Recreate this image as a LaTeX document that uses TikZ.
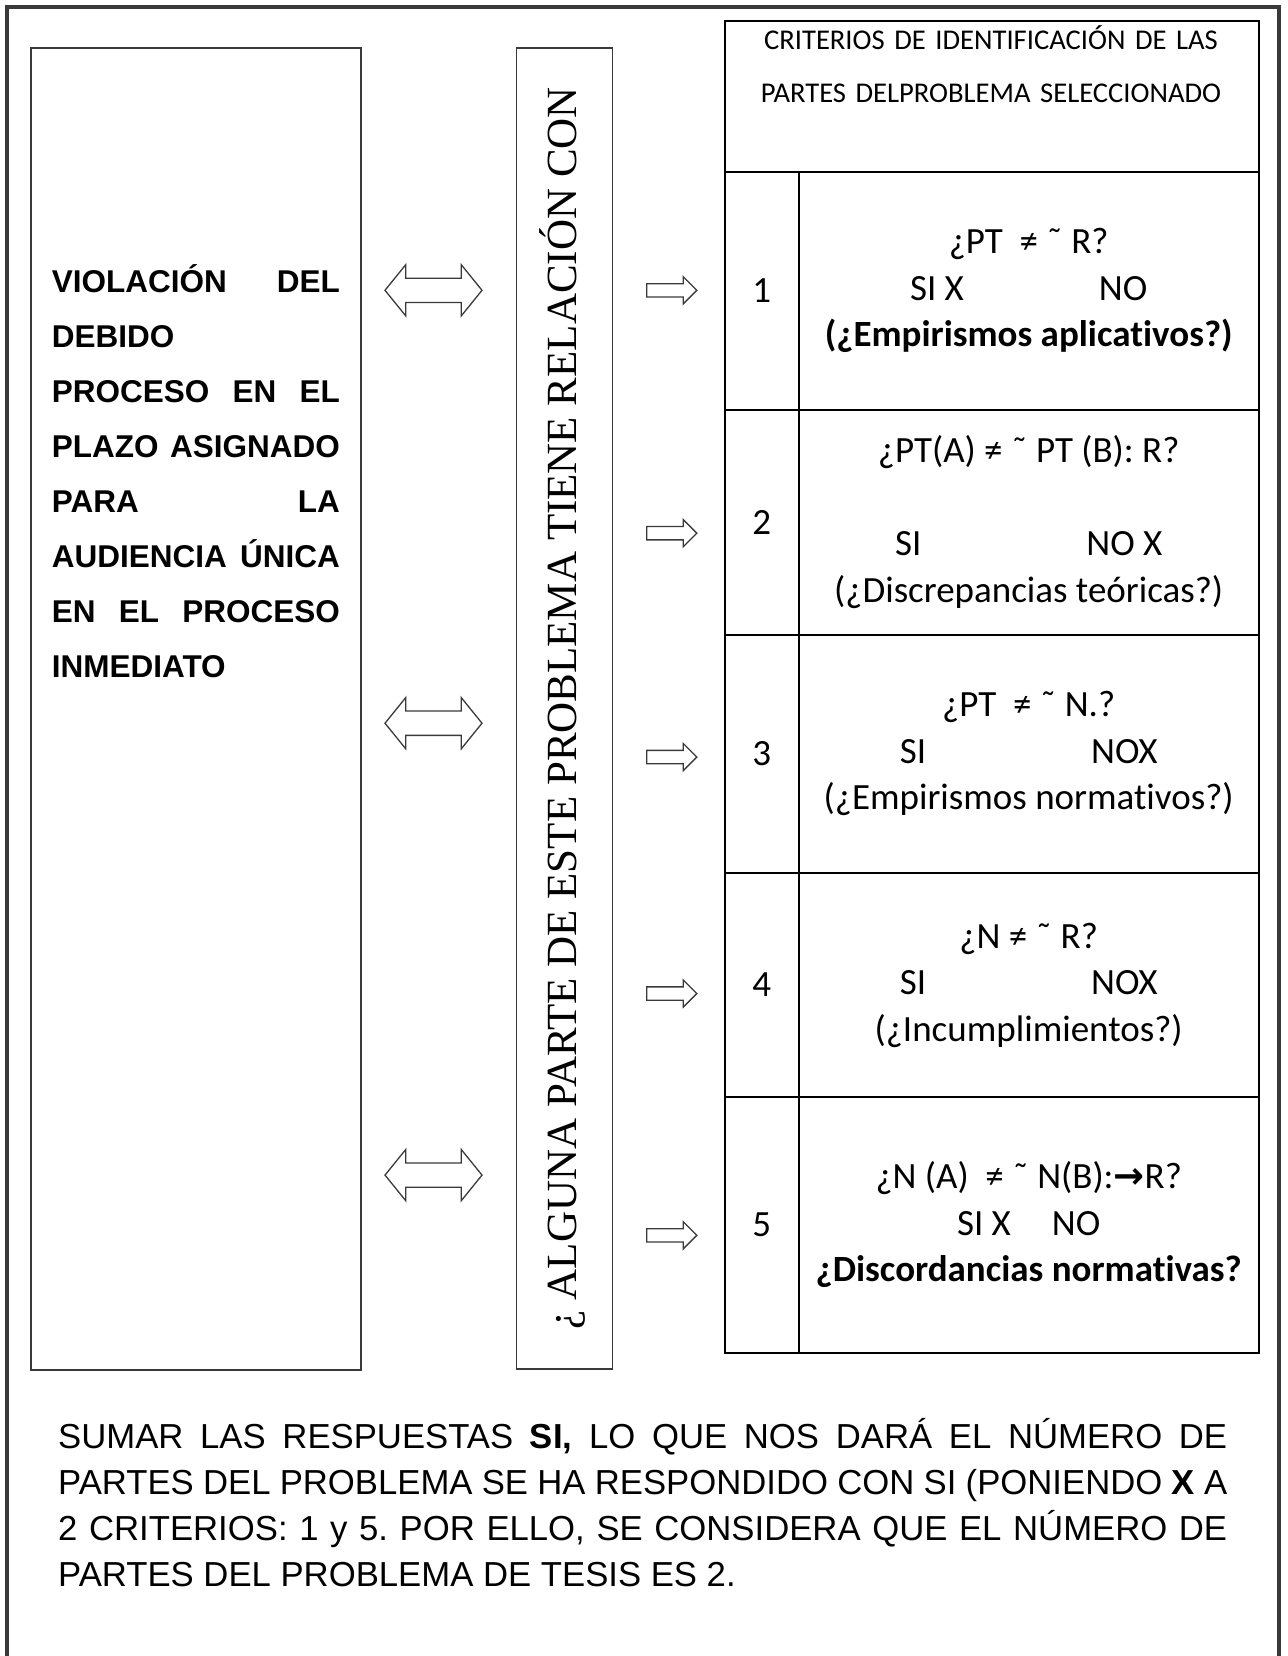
\documentclass[tikz,border=0pt]{standalone}
\usepackage{fontspec}
\setmainfont{Carlito}[Ligatures={NoCommon,NoContextual}, Contextuals=NoAlternate]
\newfontfamily\arialf{Liberation Sans}
\newfontfamily\timesf{Liberation Serif}
\newfontfamily\dejavuf{DejaVu Sans}
\usetikzlibrary{shapes.arrows}
\definecolor{gris}{HTML}{3A3A3A}
\frenchspacing

\begin{document}
\begin{tikzpicture}[x=1pt,y=-1pt,
    caja/.style={draw=gris, line width=1.5pt, rectangle, anchor=north west, inner sep=0pt},
    celda/.style={draw=black, line width=2pt, rectangle, anchor=north west, inner sep=0pt,
        align=center, font=\fontsize{37}{46.5}\selectfont},
    dflecha/.style={double arrow, draw=gris, line width=1.3pt, inner xsep=0pt, inner ysep=11.5pt,
        minimum height=97pt, double arrow head extend=13.5pt, double arrow tip angle=102},
    sflecha/.style={single arrow, draw=gris, line width=1.3pt, inner xsep=0pt, inner ysep=6pt,
        minimum height=50pt, single arrow head extend=7pt, single arrow tip angle=90}]
    \useasboundingbox (0,0) rectangle (1287,1656);

    % Dibuja el marco exterior
    \draw[gris, line width=4pt] (7,1670) -- (7,7) -- (1279,7) -- (1279,1670);

    % Caja del problema
    \node[caja, minimum width=330pt, minimum height=1321.5pt] (problema) at (30,47.5) {};
    \node[anchor=base west, text width=288pt, inner sep=0pt, align=left,
        font=\arialf\bfseries\fontsize{31.5}{55}\selectfont] (textoproblema) at (51.7,292.5)
        {VIOLACIÓN\hfill DEL\\
         DEBIDO\\
         PROCESO\hfill EN\hfill EL\\
         PLAZO\hfill ASIGNADO\\
         PARA\hfill LA\\
         AUDIENCIA\hfill ÚNICA\\
         EN\hfill EL\hfill PROCESO\\
         INMEDIATO};

    % Caja de la pregunta (texto vertical)
    \node[caja, minimum width=96pt, minimum height=1320.5pt] (pregunta) at (515.7,47.5) {};
    \node[rotate=90, inner sep=0pt, font=\timesf\fontsize{43}{50}\selectfont] (textopregunta)
        at ([xshift=-2pt]pregunta.center) {¿ ALGUNA PARTE DE ESTE PROBLEMA TIENE RELACIÓN CON};

    % Flechas dobles y simples
    \foreach \y [count=\i] in {290.3,723.2,1175.1}
        \node[dflecha] (doble\i) at (433.5,\y) {};
    \foreach \y [count=\i] in {290.3,533.2,757,993.5,1235.3}
        \node[sflecha] (simple\i) at (668.5,\y) {};

    % Tabla de criterios
    \node[celda, minimum width=533.7pt, minimum height=150.7pt] (cabecera) at (724,20) {};
    \node[anchor=base, text width=520pt, inner sep=0pt, align=center,
        font=\fontsize{28.6}{53}\selectfont] (titulo) at (991,49.5)
        {CRITERIOS DE IDENTIFICACIÓN DE LAS\\PARTES DELPROBLEMA SELECCIONADO};
    \foreach \n/\ya/\yb in {1/170.7/408.6, 2/408.6/633.5, 3/633.5/872, 4/872/1096, 5/1096/1351.5}
        \node[celda, minimum width=73.7pt, minimum height={\yb-\ya}] (num\n) at (724,\ya) {\n};

    \node[celda, minimum width=460pt, minimum height=237.9pt] (crit1) at (797.7,170.7)
        {¿PT\ \ ≠ ˜ R?\\SI X\hspace{135pt}NO\\\textbf{(¿Empirismos aplicativos?)}};
    \node[celda, minimum width=460pt, minimum height=224.9pt] (crit2) at (797.7,408.6)
        {¿PT(A) ≠ ˜ PT (B): R?\\[46.5pt]SI\hspace{165pt}NO X\\(¿Discrepancias teóricas?)};
    \node[celda, minimum width=460pt, minimum height=238.5pt] (crit3) at (797.7,633.5)
        {¿PT\ \ ≠ ˜ N.?\\SI\hspace{165pt}NOX\\(¿Empirismos normativos?)};
    \node[celda, minimum width=460pt, minimum height=224pt] (crit4) at (797.7,872)
        {¿N ≠ ˜ R?\\SI\hspace{165pt}NOX\\(¿Incumplimientos?)};
    \node[celda, minimum width=460pt, minimum height=255.5pt] (crit5) at (797.7,1096)
        {¿N (A)\ \ ≠ ˜ N(B):{\dejavuf\bfseries →}R?\\SI X\hspace{41pt}NO\\\textbf{¿Discordancias normativas?}};

    % Texto final
    \node[anchor=base west, text width=1169pt, inner sep=0pt, align=justify,
        font=\arialf\fontsize{34.7}{46}\selectfont] (resumen) at (58,1448)
        {SUMAR LAS RESPUESTAS \textbf{SI,} LO QUE NOS DARÁ EL NÚMERO DE\linebreak
         PARTES DEL PROBLEMA SE HA RESPONDIDO CON SI (PONIENDO \textbf{X} A\linebreak
         2 CRITERIOS: 1 y 5. POR ELLO, SE CONSIDERA QUE EL NÚMERO DE\linebreak
         PARTES DEL PROBLEMA DE TESIS ES 2.};
\end{tikzpicture}
\end{document}
